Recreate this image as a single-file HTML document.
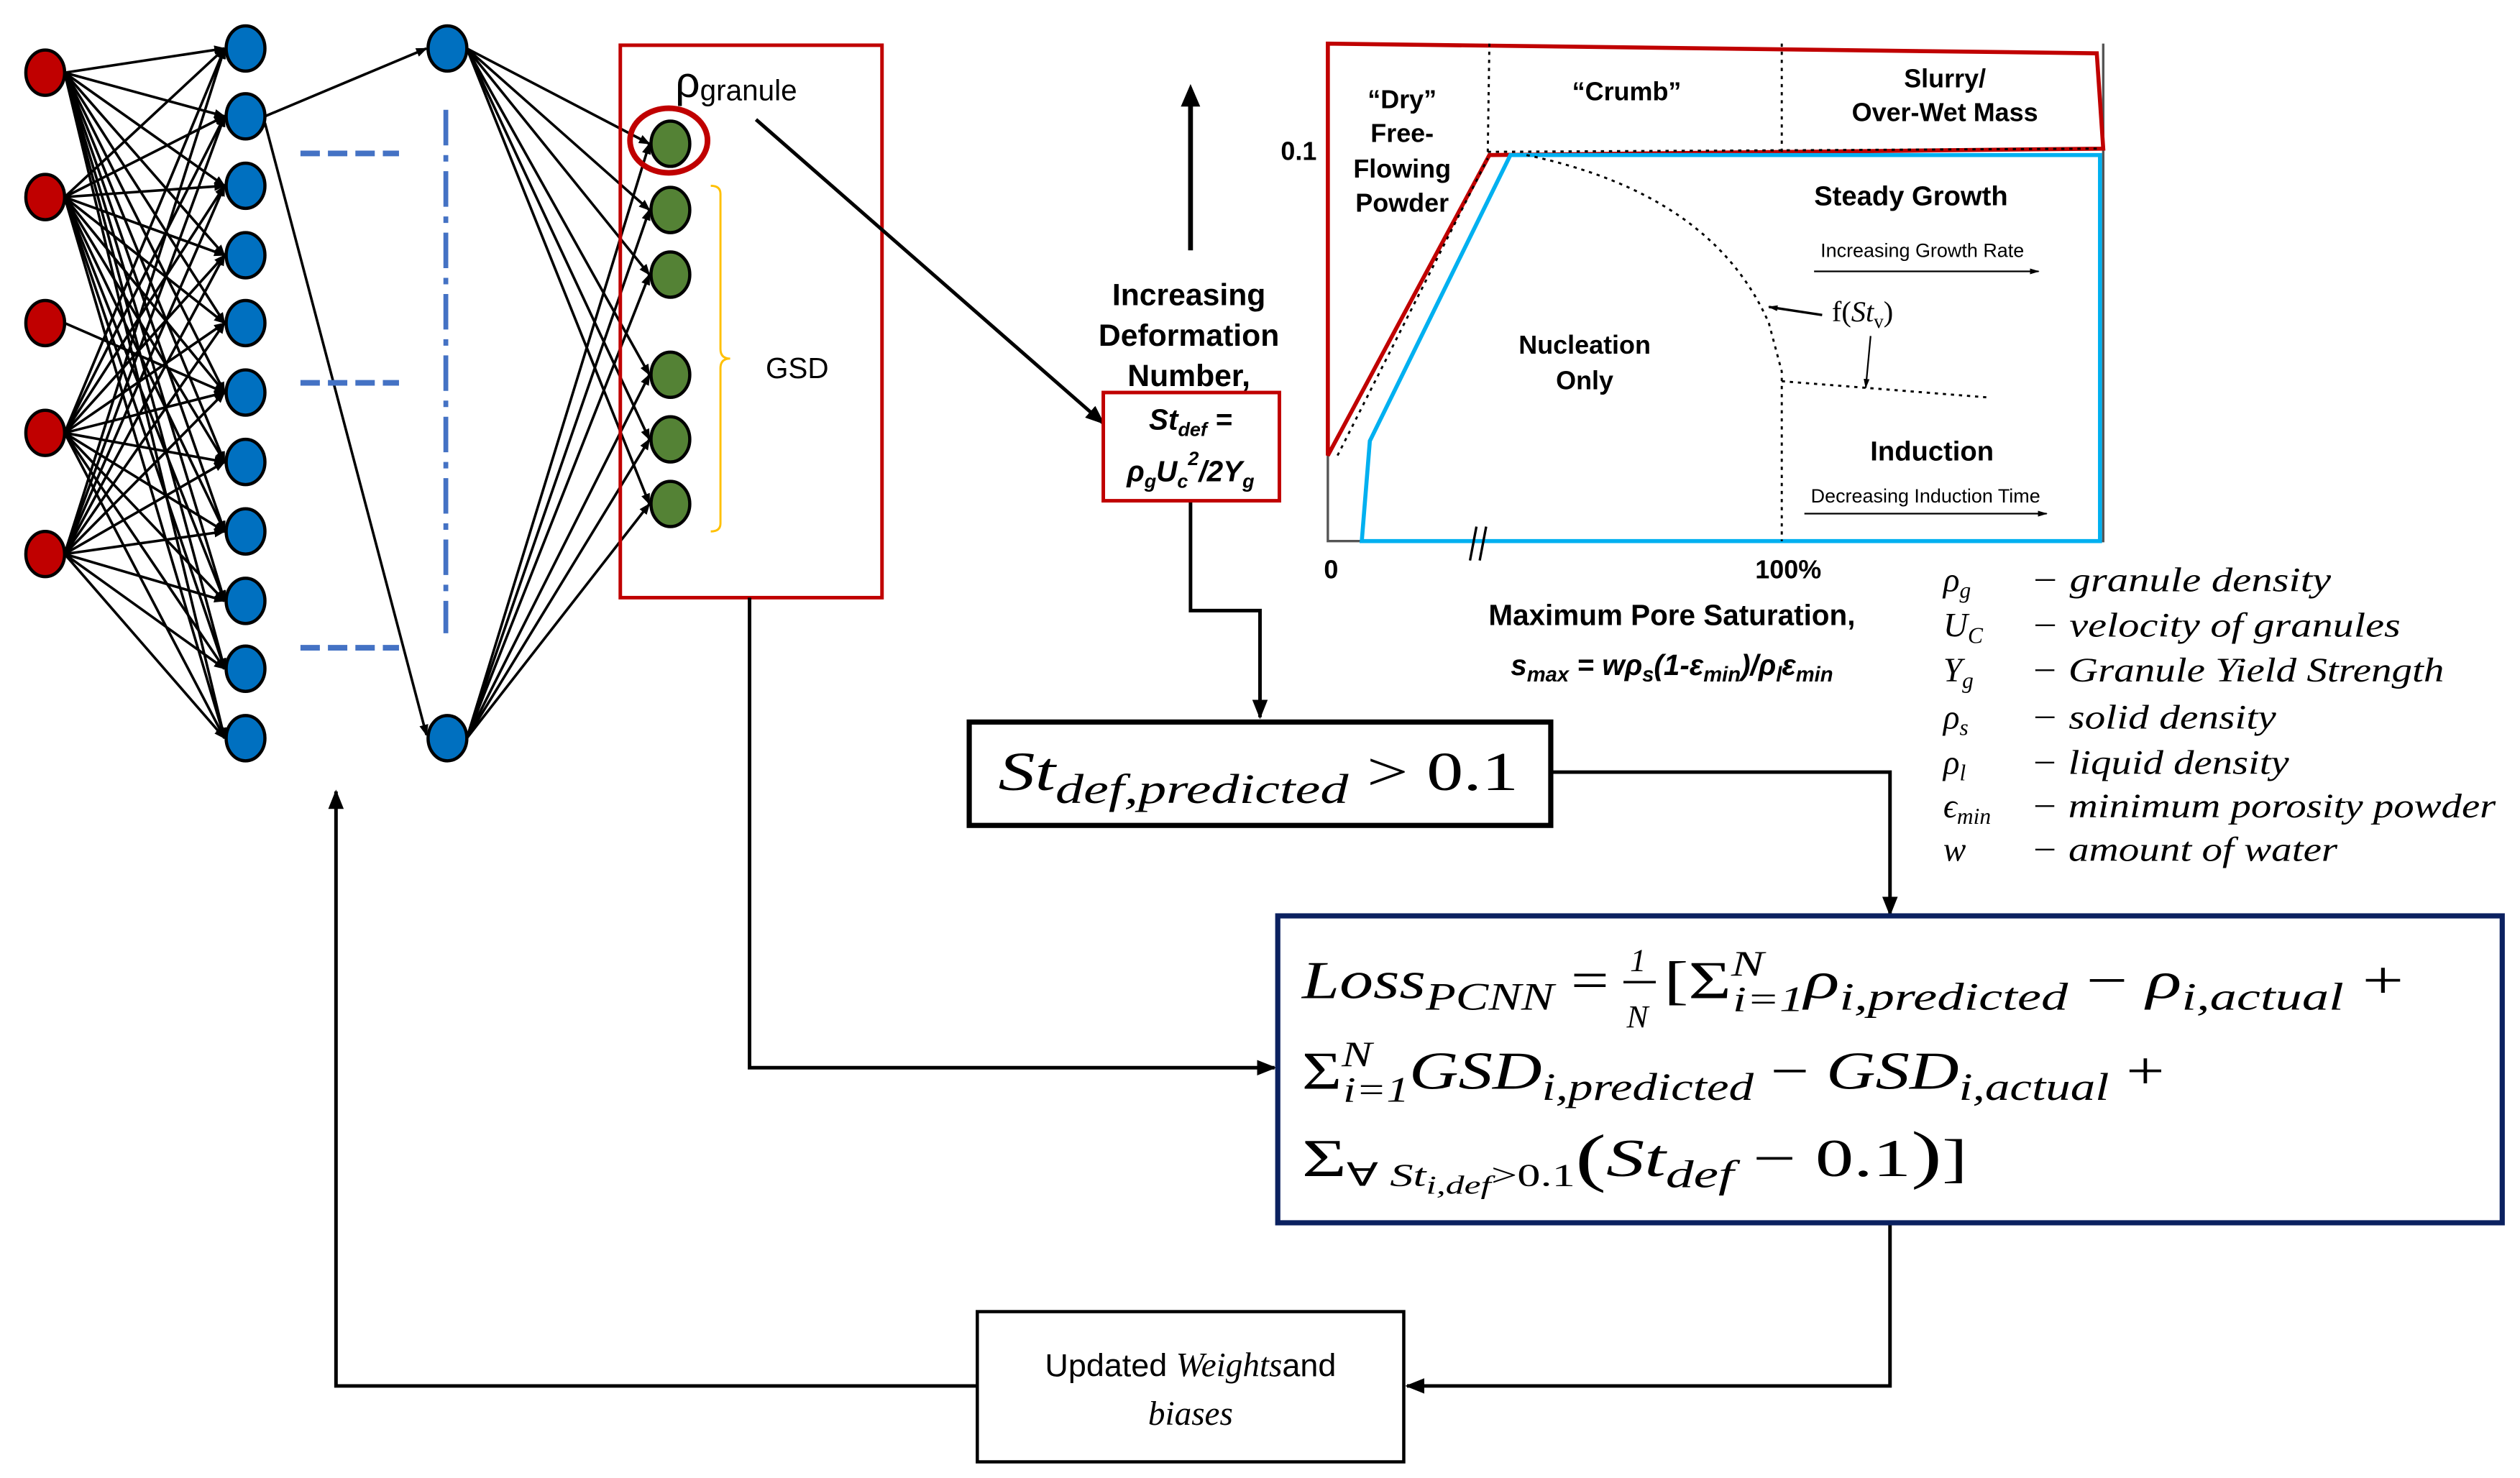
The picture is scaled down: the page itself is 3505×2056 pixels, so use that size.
<!DOCTYPE html>
<html><head><meta charset="utf-8"><style>
html,body{margin:0;padding:0;background:#fff;width:3505px;height:2056px;overflow:hidden}
svg{display:block}
.ar{font-family:"Liberation Sans",sans-serif;font-weight:bold}
.cm{font-family:"Liberation Serif",serif;font-style:italic}
</style></head><body>
<svg id="s" width="3505" height="2056" viewBox="0 0 1560 915" preserveAspectRatio="none" xmlns="http://www.w3.org/2000/svg">
<defs>
<marker id="a" viewBox="0 0 10 10" refX="9" refY="5" markerWidth="7" markerHeight="7" orient="auto-start-reverse" markerUnits="userSpaceOnUse"><path d="M0,1 L10,5 L0,9 z" fill="#000"/></marker>
<marker id="b" viewBox="0 0 10 10" refX="9" refY="5" markerWidth="12" markerHeight="12" orient="auto" markerUnits="userSpaceOnUse"><path d="M0,1 L10,5 L0,9 z" fill="#000"/></marker>
<marker id="c" viewBox="0 0 10 10" refX="9" refY="5" markerWidth="6" markerHeight="6" orient="auto" markerUnits="userSpaceOnUse"><path d="M0,2 L10,5 L0,8 z" fill="#000"/></marker>
</defs>
<g id="net" stroke="#000" stroke-width="1.6" fill="none"></g>
<g id="nodes"></g>
<g stroke="#4472c4" stroke-width="3.5" fill="none">
<line x1="186" y1="95" x2="247" y2="95" stroke-dasharray="12,5"/>
<line x1="186" y1="237" x2="247" y2="237" stroke-dasharray="12,5"/>
<line x1="186" y1="401" x2="247" y2="401" stroke-dasharray="12,5"/>
<line x1="276" y1="68" x2="276" y2="392" stroke-width="3" stroke-dasharray="22,6,4,6"/>
</g>
<rect x="384" y="28" width="162" height="342" fill="none" stroke="#c00000" stroke-width="2.2"/>
<ellipse cx="414" cy="87" rx="24" ry="20" fill="none" stroke="#c00000" stroke-width="3.5"/>
<text x="418" y="60" font-family="Liberation Sans,sans-serif" font-size="27">ρ<tspan font-size="18" dy="2">granule</tspan></text>
<path d="M440,115 Q446,115 446,120 L446,216 Q446,222 452,222 Q446,222 446,228 L446,324 Q446,329 440,329" fill="none" stroke="#ffc000" stroke-width="1.3"/>
<text x="474" y="234" font-family="Liberation Sans,sans-serif" font-size="18">GSD</text>
<g stroke="#000" stroke-width="2.2" fill="none">
<line x1="468" y1="74" x2="683" y2="262" marker-end="url(#b)"/>
<polyline points="737,310 737,378 780,378 780,444" marker-end="url(#b)"/>
<polyline points="960,478 1170,478 1170,566" marker-end="url(#b)"/>
<polyline points="464,370 464,661 789,661" marker-end="url(#b)"/>
<polyline points="1170,757 1170,858 871,858" marker-end="url(#b)"/>
<polyline points="605,858 208,858 208,490" marker-end="url(#b)"/>
</g>
<line x1="737" y1="155" x2="737" y2="62" stroke="#000" stroke-width="3"/>
<path d="M731,66 L737,52 L743,66 z" fill="#000"/>
<text class="ar" font-size="19" text-anchor="middle"><tspan x="736" y="189">Increasing</tspan><tspan x="736" y="214">Deformation</tspan><tspan x="736" y="239">Number,</tspan></text>
<rect x="683" y="243" width="109" height="67" fill="#fff" stroke="#c00000" stroke-width="2.2"/>
<text class="ar" font-style="italic" font-size="18" text-anchor="middle"><tspan x="737" y="266">St<tspan font-size="12" dy="4">def</tspan><tspan dy="-4"> =</tspan></tspan><tspan x="737" y="298">ρ<tspan font-size="12" dy="4">g</tspan><tspan dy="-4">U</tspan><tspan font-size="12" dy="4">c</tspan><tspan font-size="12" dy="-14">2</tspan><tspan dy="10">/2Y</tspan><tspan font-size="12" dy="4">g</tspan></tspan></text>
<rect x="600" y="447" width="360" height="64" fill="#fff" stroke="#000" stroke-width="3.2"/>
<text x="618" y="489" font-family="Liberation Serif,serif" font-size="34" textLength="322" lengthAdjust="spacingAndGlyphs"><tspan font-style="italic">St</tspan><tspan font-style="italic" font-size="26" dy="8">def,predicted</tspan><tspan dy="-8"> &gt; 0.1</tspan></text>
<rect x="791" y="567" width="758" height="190" fill="#fff" stroke="#0b2160" stroke-width="3.2"/>
<g font-family="Liberation Serif,serif" font-size="33">
<text x="806" y="618" textLength="190" lengthAdjust="spacingAndGlyphs"><tspan font-style="italic">Loss</tspan><tspan font-style="italic" font-size="24" dy="7">PCNN</tspan><tspan dy="-7"> =</tspan></text>
<text x="1009" y="601" font-size="20" font-style="italic">1</text>
<line x1="1005" y1="608" x2="1025" y2="608" stroke="#000" stroke-width="1.5"/>
<text x="1007" y="636" font-size="20" font-style="italic">N</text>
<text x="1030" y="618" textLength="458" lengthAdjust="spacingAndGlyphs">[Σ<tspan font-style="italic" font-size="22" dy="-14">N</tspan><tspan font-style="italic" font-size="22" dx="-14" dy="22">i=1</tspan><tspan font-style="italic" dy="-8">ρ</tspan><tspan font-style="italic" font-size="24" dy="7">i,predicted</tspan><tspan dy="-7"> − </tspan><tspan font-style="italic">ρ</tspan><tspan font-style="italic" font-size="24" dy="7">i,actual</tspan><tspan dy="-7"> +</tspan></text>
<text x="806" y="674" textLength="534" lengthAdjust="spacingAndGlyphs">Σ<tspan font-style="italic" font-size="22" dy="-14">N</tspan><tspan font-style="italic" font-size="22" dx="-14" dy="22">i=1</tspan><tspan font-style="italic" dy="-8">GSD</tspan><tspan font-style="italic" font-size="24" dy="7">i,predicted</tspan><tspan dy="-7"> − </tspan><tspan font-style="italic">GSD</tspan><tspan font-style="italic" font-size="24" dy="7">i,actual</tspan><tspan dy="-7"> +</tspan></text>
<text x="806" y="728" textLength="412" lengthAdjust="spacingAndGlyphs">Σ<tspan font-size="20" dy="6">∀ </tspan><tspan font-style="italic" font-size="20">St</tspan><tspan font-style="italic" font-size="16" dy="5">i,def</tspan><tspan font-size="20" dy="-5">&gt;0.1</tspan><tspan font-size="40" dy="-4">(</tspan><tspan font-style="italic" dy="-2">St</tspan><tspan font-style="italic" font-size="24" dy="7">def</tspan><tspan dy="-7"> − 0.1</tspan><tspan font-size="40">)</tspan><tspan>]</tspan></text>
</g>
<rect x="605" y="812" width="264" height="93" fill="#fff" stroke="#000" stroke-width="2"/>
<text font-family="Liberation Sans,sans-serif" font-size="20" text-anchor="middle"><tspan x="737" y="852">Updated <tspan class="cm" font-size="21">Weights</tspan>and</tspan><tspan x="737" y="882" class="cm" font-size="21">biases</tspan></text>
<g fill="none">
<polyline points="822,27 822,335 1302,335 1302,27" stroke="#555" stroke-width="1.5"/>
<polygon points="822,27 1298,33 1302,92 922,96 822,282" stroke="#c00000" stroke-width="2.5"/>
<polygon points="843,335 848,273 935,96 1300,96 1300,335" stroke="#00b0f0" stroke-width="2.5"/>
<g stroke="#000" stroke-width="1.3" stroke-dasharray="2,3">
<line x1="922" y1="27" x2="921" y2="94"/>
<line x1="1103" y1="27" x2="1103" y2="94"/>
<line x1="921" y1="94" x2="1300" y2="92"/>
<line x1="828" y1="282" x2="921" y2="98"/>
<path d="M945,96 Q1060,120 1095,200 L1103,230 L1103,335"/>
<line x1="1103" y1="236" x2="1230" y2="246"/>
</g>
</g>
<g class="ar" text-anchor="middle" font-size="16">
<text><tspan x="868" y="67">“Dry”</tspan><tspan x="868" y="88">Free-</tspan><tspan x="868" y="110">Flowing</tspan><tspan x="868" y="131">Powder</tspan></text>
<text x="1007" y="62">“Crumb”</text>
<text><tspan x="1204" y="54">Slurry/</tspan><tspan x="1204" y="75">Over-Wet Mass</tspan></text>
<text x="1183" y="127" font-size="17">Steady Growth</text>
<text><tspan x="981" y="219">Nucleation</tspan><tspan x="981" y="241">Only</tspan></text>
<text x="1196" y="285" font-size="17">Induction</text>
<text x="804" y="99" text-anchor="middle">0.1</text>
<text x="824" y="358">0</text>
<text x="1107" y="358">100%</text>
<text x="1035" y="387" font-size="18">Maximum Pore Saturation,</text>
<text x="1035" y="418" font-size="18" font-style="italic">s<tspan font-size="13" dy="4">max</tspan><tspan dy="-4"> = wρ</tspan><tspan font-size="13" dy="4">s</tspan><tspan dy="-4">(1-ε</tspan><tspan font-size="13" dy="4">min</tspan><tspan dy="-4">)/ρ</tspan><tspan font-size="13" dy="4">l</tspan><tspan dy="-4">ε</tspan><tspan font-size="13" dy="4">min</tspan></text>
</g>
<g font-family="Liberation Sans,sans-serif" font-size="12" text-anchor="middle">
<text x="1190" y="159">Increasing Growth Rate</text>
<text x="1192" y="311">Decreasing Induction Time</text>
</g>
<text x="1134" y="199" font-family="Liberation Serif,serif" font-size="18">f(<tspan font-style="italic">St</tspan><tspan font-size="12" dy="4">v</tspan><tspan dy="-4">)</tspan></text>
<g stroke="#000" stroke-width="1" fill="none">
<line x1="1123" y1="168" x2="1262" y2="168" marker-end="url(#c)"/>
<line x1="1117" y1="318" x2="1267" y2="318" marker-end="url(#c)"/>
<line x1="1128" y1="195" x2="1095" y2="190" stroke-width="1.5" marker-end="url(#c)"/>
<line x1="1158" y1="208" x2="1155" y2="240" marker-end="url(#c)"/>
<line x1="910" y1="347" x2="914" y2="326" stroke-width="1.5"/>
<line x1="916" y1="347" x2="920" y2="326" stroke-width="1.5"/>
</g>
<g class="cm" font-size="21">
<text x="1203" y="366">ρ<tspan font-size="14" dy="4">g</tspan></text><text x="1257" y="366" textLength="186" lengthAdjust="spacingAndGlyphs">− granule density</text>
<text x="1203" y="394">U<tspan font-size="14" dy="4">C</tspan></text><text x="1257" y="394" textLength="229" lengthAdjust="spacingAndGlyphs">− velocity of granules</text>
<text x="1203" y="422">Y<tspan font-size="14" dy="4">g</tspan></text><text x="1257" y="422" textLength="256" lengthAdjust="spacingAndGlyphs">− Granule Yield Strength</text>
<text x="1203" y="451">ρ<tspan font-size="14" dy="4">s</tspan></text><text x="1257" y="451" textLength="152" lengthAdjust="spacingAndGlyphs">− solid density</text>
<text x="1203" y="479">ρ<tspan font-size="14" dy="4">l</tspan></text><text x="1257" y="479" textLength="160" lengthAdjust="spacingAndGlyphs">− liquid density</text>
<text x="1203" y="506">ϵ<tspan font-size="14" dy="4">min</tspan></text><text x="1257" y="506" textLength="288" lengthAdjust="spacingAndGlyphs">− minimum porosity powder</text>
<text x="1203" y="533">w</text><text x="1257" y="533" textLength="190" lengthAdjust="spacingAndGlyphs">− amount of water</text>
</g>
</svg>
<script>
(function(){
var ns="http://www.w3.org/2000/svg",net=document.getElementById("net"),nd=document.getElementById("nodes");
function ln(x1,y1,x2,y2){var l=document.createElementNS(ns,"line");l.setAttribute("x1",x1);l.setAttribute("y1",y1);l.setAttribute("x2",x2);l.setAttribute("y2",y2);l.setAttribute("marker-end","url(#a)");net.appendChild(l);}
function el(cx,cy,f){var e=document.createElementNS(ns,"ellipse");e.setAttribute("cx",cx);e.setAttribute("cy",cy);e.setAttribute("rx",12);e.setAttribute("ry",14);e.setAttribute("fill",f);e.setAttribute("stroke","#000");e.setAttribute("stroke-width","2");nd.appendChild(e);}
var R=[45,122,200,268,343],B=[30,72,115,158,200,243,286,329,372,414,457],G=[89,130,170,232,272,312],C2=[30,457];
R.forEach(function(r,i){B.forEach(function(b){if(i==2&&b!=243)return;ln(40,r,139,b);});});
ln(164,72,264,30);ln(164,76,264,455);
C2.forEach(function(c){G.forEach(function(g){ln(289,c,402,g);});});
R.forEach(function(r){el(28,r,"#c00000");});
B.forEach(function(b){el(152,b,"#0070c0");});
C2.forEach(function(c){el(277,c,"#0070c0");});
G.forEach(function(g){el(415,g,"#548235");});
})();
</script>
</body></html>
